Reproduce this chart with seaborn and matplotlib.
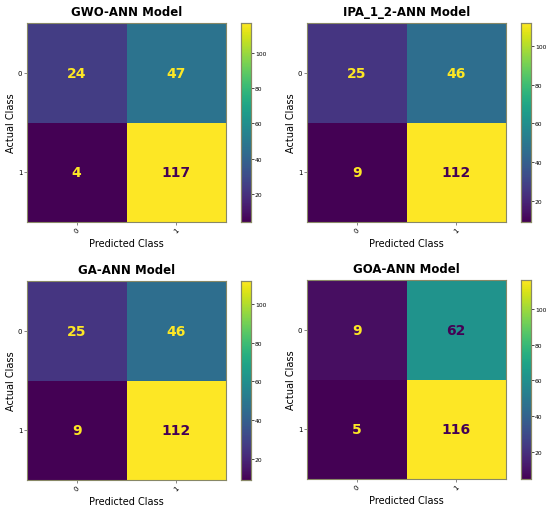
import numpy as np
import pandas as pd
import seaborn as sns
import matplotlib
matplotlib.use("Agg")
import matplotlib.pyplot as plt

titles = ["GWO-ANN Model", "IPA_1_2-ANN Model", "GA-ANN Model", "GOA-ANN Model"]
class_labels = ["0", "1"]
gwo = [[24, 47], [4, 117]]
ipa = [[25, 46], [9, 112]]
ga = [[25, 46], [9, 112]]
goa = [[9, 62], [5, 116]]
matrices = [gwo, ipa, ga, goa]

plt.rcParams['font.family'] = ['DejaVu Sans']
fig = plt.figure(figsize=(5.5, 5.1), dpi=100)

W, H = 550.0, 510.0
# (left, top) pixel positions of heatmap and colorbar left
panels = [(27, 24, 241), (307, 24, 521), (27, 282, 241), (307, 281, 521)]
size = 199
cmap = plt.get_cmap("viridis")

for (lx, ty, cx), mat, title in zip(panels, matrices, titles):
    ax = fig.add_axes([lx / W, (H - ty - size) / H, size / W, size / H])
    cax = fig.add_axes([cx / W, (H - ty - size) / H, 10 / W, size / H])
    arr = np.array(mat)
    df = pd.DataFrame(arr, index=class_labels, columns=class_labels)
    sns.heatmap(df, ax=ax, cbar_ax=cax, cmap="viridis", annot=True, fmt="d",
                annot_kws={"fontsize": 10, "fontweight": "bold"}, square=False)
    thresh = (arr.max() + arr.min()) / 2.0
    for t in ax.texts:
        v = float(t.get_text())
        t.set_color(cmap(0.0) if v > thresh else cmap(1.0))
    ax.set_title(title, fontsize=8.5, fontweight="bold", pad=6)
    ax.set_xlabel("Predicted Class", fontsize=7, labelpad=3)
    ax.set_ylabel("Actual Class", fontsize=7, labelpad=1.5)
    ax.set_xticklabels(class_labels, rotation=45, fontsize=5)
    ax.set_yticklabels(class_labels, rotation=0, fontsize=5)
    ax.tick_params(length=2.2, width=0.5, color="#555555", pad=1.2)
    for s in ax.spines.values():
        s.set_visible(True)
        s.set_color("#888866")
        s.set_linewidth(0.8)
    cax.tick_params(labelsize=4.3, length=1.8, width=0.5, pad=1)
    cax.set_yticks([20, 40, 60, 80, 100])
    cax.set_ylim(arr.min(), arr.max())
    for s in cax.spines.values():
        s.set_visible(True)
        s.set_color("#888866")
        s.set_linewidth(0.8)

fig.savefig("out.png", dpi=100)
